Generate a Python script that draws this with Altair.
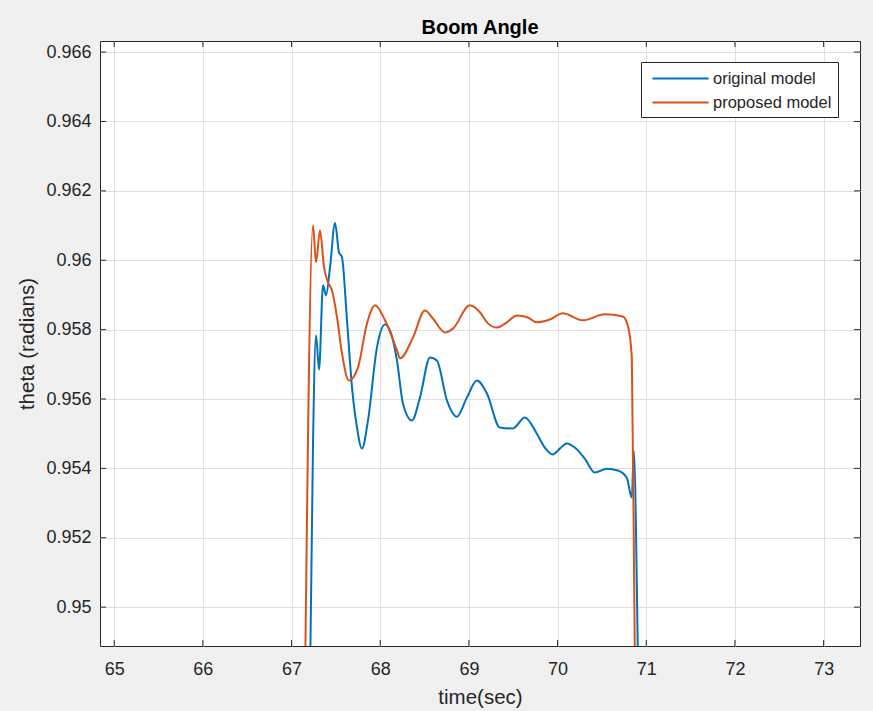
import altair as alt
import pandas as pd

# ---- data ----
t_original = [67.208, 67.242, 67.276, 67.310, 67.355, 67.389, 67.434, 67.490, 67.535, 67.569,
              67.625, 67.682, 67.738, 67.794, 67.862, 67.963, 68.054, 68.110, 68.189, 68.256,
              68.358, 68.448, 68.561, 68.639, 68.752, 68.865, 68.977, 69.090, 69.203, 69.349,
              69.496, 69.631, 69.766, 69.856, 69.946, 70.025, 70.104, 70.194, 70.307, 70.420,
              70.555, 70.679, 70.780, 70.837, 70.859, 70.904, 70.910]
theta_original = [0.94788, 0.95472, 0.95783, 0.95685, 0.95928, 0.95899, 0.95980, 0.96107, 0.96023, 0.96008,
                  0.95827, 0.95633, 0.95518, 0.95457, 0.95538, 0.95749, 0.95815, 0.95798, 0.95711, 0.95587,
                  0.95538, 0.95604, 0.95720, 0.95711, 0.95596, 0.95549, 0.95604, 0.95653, 0.95616, 0.95518,
                  0.95515, 0.95547, 0.95500, 0.95460, 0.95440, 0.95457, 0.95472, 0.95460, 0.95428, 0.95388,
                  0.95399, 0.95394, 0.95373, 0.95316, 0.95451, 0.94886, 0.94788]

t_proposed = [67.152, 67.242, 67.276, 67.321, 67.366, 67.411, 67.456, 67.513, 67.569, 67.648,
              67.749, 67.851, 67.941, 68.054, 68.189, 68.223, 68.369, 68.504, 68.594, 68.730,
              68.820, 69.011, 69.124, 69.214, 69.315, 69.428, 69.541, 69.665, 69.766, 69.913,
              70.059, 70.285, 70.532, 70.735, 70.792, 70.837, 70.870, 70.876]
theta_proposed = [0.94788, 0.96101, 0.95994, 0.96086, 0.95980, 0.95936, 0.95913, 0.95835, 0.95731, 0.95653,
                  0.95691, 0.95818, 0.95870, 0.95827, 0.95740, 0.95717, 0.95777, 0.95855, 0.95832, 0.95792,
                  0.95803, 0.95870, 0.95850, 0.95818, 0.95806, 0.95821, 0.95841, 0.95835, 0.95821, 0.95829,
                  0.95847, 0.95827, 0.95844, 0.95838, 0.95812, 0.95720, 0.94886, 0.94788]

series_names = ["original model", "proposed model"]
series_colors = ["#0072BD", "#D95319"]
x_ticks = [65, 66, 67, 68, 69, 70, 71, 72, 73]
y_ticks = [0.950, 0.952, 0.954, 0.956, 0.958, 0.960, 0.962, 0.964, 0.966]
x_domain = [64.84, 73.41]
y_domain = [0.94888, 0.96632]

W, H = 760, 605
FONT = "Liberation Sans"
DARK = "#262626"

df = pd.concat([
    pd.DataFrame({"t": t_original, "theta": theta_original, "model": series_names[0], "order": range(len(t_original))}),
    pd.DataFrame({"t": t_proposed, "theta": theta_proposed, "model": series_names[1], "order": range(len(t_proposed))}),
])
xt = pd.DataFrame({"t": x_ticks})
yt = pd.DataFrame({"theta": y_ticks})

x_axis = alt.Axis(values=x_ticks, title="time(sec)", grid=True, ticks=False, domain=False,
                  labelPadding=14, titlePadding=9, format="d")
y_axis = alt.Axis(values=y_ticks, title="theta (radians)", grid=True, ticks=False, domain=False,
                  labelPadding=9, titlePadding=8, format="~g")
xs = alt.Scale(domain=x_domain, nice=False, zero=False)
ys = alt.Scale(domain=y_domain, nice=False, zero=False)

X = alt.X("t:Q", scale=xs, axis=x_axis)
Y = alt.Y("theta:Q", scale=ys, axis=y_axis)

lines = alt.Chart(df).mark_line(clip=True, strokeWidth=2, interpolate="monotone").encode(
    x=X, y=Y, order="order:Q",
    color=alt.Color("model:N", scale=alt.Scale(domain=series_names, range=series_colors),
                    legend=alt.Legend(title=None, orient="none", legendX=541, legendY=21,
                                      fillColor="white", strokeColor=DARK, padding=6,
                                      symbolType="M-3,0H3", symbolSize=350, symbolStrokeWidth=2,
                                      symbolOffset=23, labelOffset=22,
                                      labelFont=FONT, labelFontSize=16.5, labelColor=DARK,
                                      rowPadding=5, cornerRadius=0)),
)

tick_bottom = alt.Chart(xt).mark_rule(color=DARK).encode(x=X, y=alt.value(H), y2=alt.value(H - 6))
tick_top = alt.Chart(xt).mark_rule(color=DARK).encode(x=X, y=alt.value(0), y2=alt.value(6))
tick_left = alt.Chart(yt).mark_rule(color=DARK).encode(y=Y, x=alt.value(0), x2=alt.value(6))
tick_right = alt.Chart(yt).mark_rule(color=DARK).encode(y=Y, x=alt.value(W), x2=alt.value(W - 6))

chart = alt.layer(lines, tick_bottom, tick_top, tick_left, tick_right).properties(
    width=W, height=H,
    title=alt.TitleParams("Boom Angle", font=FONT, fontSize=20, fontWeight="bold", color="black", offset=2.5),
    autosize=alt.AutoSizeParams(type="none"),
    padding={"left": 100, "top": 41, "right": 13, "bottom": 65},
    background="#f0f0f0",
).configure_view(
    fill="white", stroke=DARK, strokeWidth=1,
).configure_axis(
    labelFont=FONT, labelFontSize=18, labelColor=DARK,
    titleFont=FONT, titleFontSize=20.5, titleColor=DARK, titleFontWeight="normal",
    gridColor="#dfdfdf", gridWidth=1,
)

chart.save("out.html", embed_options={"renderer": "svg", "actions": False})
